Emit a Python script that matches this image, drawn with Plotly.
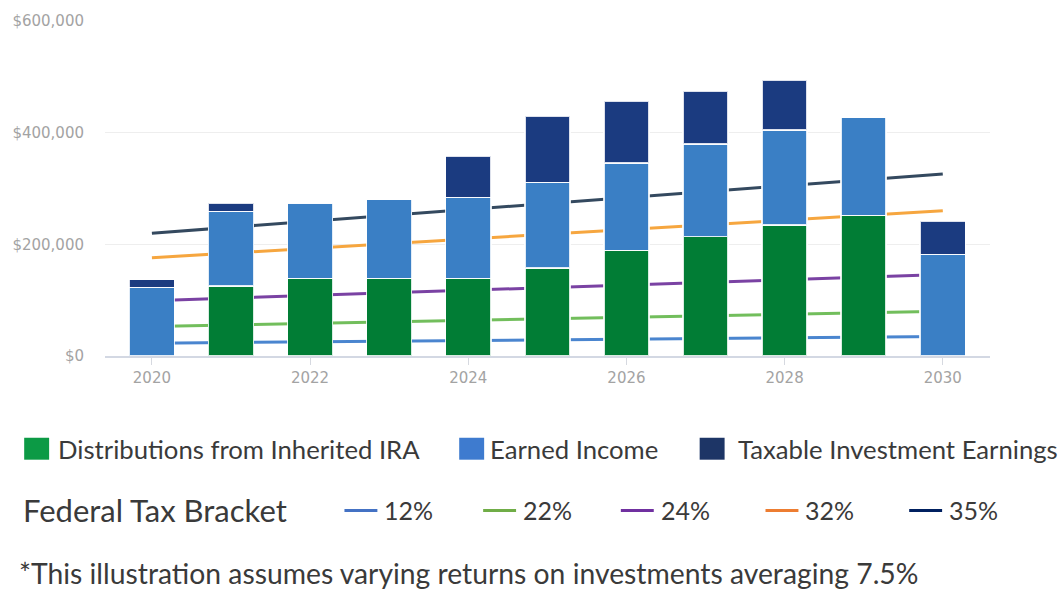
import plotly.graph_objects as go

# ---------------- data ----------------
years = [2020, 2021, 2022, 2023, 2024, 2025, 2026, 2027, 2028, 2029, 2030]
ira_distributions = [0, 125000, 139000, 139000, 139000, 158000, 189000, 214000, 235000, 252000, 0]
earned_income = [123000, 134000, 135000, 141000, 145000, 153000, 157000, 166000, 170000, 175000, 182000]
taxable_earnings = [14000, 15000, 0, 0, 74000, 119000, 110000, 94000, 89000, 0, 59000]

bracket_years = [2020, 2030]
bracket_12 = [23000, 35000]
bracket_22 = [53000, 80000]
bracket_24 = [99000, 146000]
bracket_32 = [176000, 260000]
bracket_35 = [220000, 326000]

bar_names = ["Distributions from Inherited IRA", "Earned Income", "Taxable Investment Earnings"]
bracket_names = ["12%", "22%", "24%", "32%", "35%"]
y_ticks = [0, 200000, 400000, 600000]
y_tick_labels = ["$" + format(v, ",") for v in y_ticks]
x_ticks = [2020, 2022, 2024, 2026, 2028, 2030]
legend_title = "Federal Tax Bracket"
footnote = "*This illustration assumes varying returns on investments averaging 7.5%"

# ---------------- styles ----------------
bar_colors = ["#017d35", "#3a7fc5", "#1b3b80"]
line_colors = ["#4a85cf", "#72be5c", "#7a42a3", "#f6a63f", "#34495f"]
legend_box_colors = ["#0c9a45", "#3e7bcf", "#1d3566"]
legend_line_colors = ["#4472c4", "#70ad47", "#7030a0", "#ed7d31", "#002060"]

W, H = 1064, 589
L, R, T, B = 103, 74, 20, 233
plot_w = W - L - R
plot_h = H - T - B
x_range = [2019.407, 2030.597]
y_range = [0, 600000]


def px(x):
    return (x - L) / plot_w


def py(y):
    return (H - B - y) / plot_h


fig = go.Figure()

# lines (drawn on the base subplot, underneath the bars)
for name, vals, col in zip(bracket_names,
                           [bracket_12, bracket_22, bracket_24, bracket_32, bracket_35],
                           line_colors):
    fig.add_trace(go.Scatter(x=bracket_years, y=vals, mode="lines", name=name,
                             line=dict(color=col, width=3), xaxis="x", yaxis="y",
                             showlegend=False))

# stacked bars on an overlaying subplot so they sit on top of the lines
for name, vals, col in zip(bar_names, [ira_distributions, earned_income, taxable_earnings], bar_colors):
    fig.add_trace(go.Bar(x=years, y=vals, name=name, marker=dict(color=col,
                         line=dict(color="rgba(255,255,255,0.85)", width=1.5)),
                         xaxis="x2", yaxis="y2", showlegend=False))

axis_font = dict(family="DejaVu Sans", size=15, color="#a3a3a3")

fig.update_layout(
    width=W, height=H,
    margin=dict(l=L, r=R, t=T, b=B),
    paper_bgcolor="white", plot_bgcolor="white",
    barmode="stack", bargap=0.43,
    xaxis=dict(range=x_range, tickvals=x_ticks, ticks="outside", ticklen=7, tickcolor="#d6d9e0",
               tickwidth=1, showgrid=False, showline=True, linecolor="#d3d8e3", linewidth=1.5,
               tickfont=axis_font, zeroline=False, ticklabelstandoff=0),
    yaxis=dict(range=y_range, tickvals=y_ticks, ticktext=y_tick_labels,
               showgrid=True, gridcolor="#eeeeee", gridwidth=1, zeroline=False,
               showline=False, tickfont=axis_font, ticklabelstandoff=20),
    xaxis2=dict(range=x_range, overlaying="x", visible=False),
    yaxis2=dict(range=y_range, overlaying="y", visible=False),
)

# ---------------- custom legend ----------------
legend_font = "Lato"
text_color = "#3a3a3a"
shapes = []
annotations = []

row1_y = 449
box_x = [22, 458, 699]
text_x = [54, 487, 735]
for i, name in enumerate(bar_names):
    shapes.append(dict(type="rect", xref="paper", yref="paper",
                       x0=px(box_x[i]), x1=px(box_x[i] + 25),
                       y0=py(row1_y + 11), y1=py(row1_y - 11),
                       fillcolor=legend_box_colors[i], line=dict(width=0)))
    annotations.append(dict(xref="paper", yref="paper", x=px(text_x[i]), y=py(row1_y),
                            text=name, showarrow=False, xanchor="left", yanchor="middle",
                            font=dict(family=legend_font, size=25.7, color=text_color)))

row2_y = 510
annotations.append(dict(xref="paper", yref="paper", x=px(19), y=py(row2_y),
                        text=legend_title, showarrow=False, xanchor="left", yanchor="middle",
                        font=dict(family=legend_font, size=31, color=text_color)))
line_x = [343, 482, 620, 765, 909]
for i, name in enumerate(bracket_names):
    shapes.append(dict(type="line", xref="paper", yref="paper",
                       x0=px(line_x[i]), x1=px(line_x[i] + 33),
                       y0=py(row2_y + 1), y1=py(row2_y + 1),
                       line=dict(color=legend_line_colors[i], width=3)))
    annotations.append(dict(xref="paper", yref="paper", x=px(line_x[i] + 38), y=py(row2_y),
                            text=name, showarrow=False, xanchor="left", yanchor="middle",
                            font=dict(family=legend_font, size=25, color=text_color)))

annotations.append(dict(xref="paper", yref="paper", x=px(16), y=py(574),
                        text=footnote, showarrow=False, xanchor="left", yanchor="middle",
                        borderpad=0,
                        font=dict(family=legend_font, size=28.3, color=text_color)))

fig.update_layout(shapes=shapes, annotations=annotations)

fig.write_html("out.html")
